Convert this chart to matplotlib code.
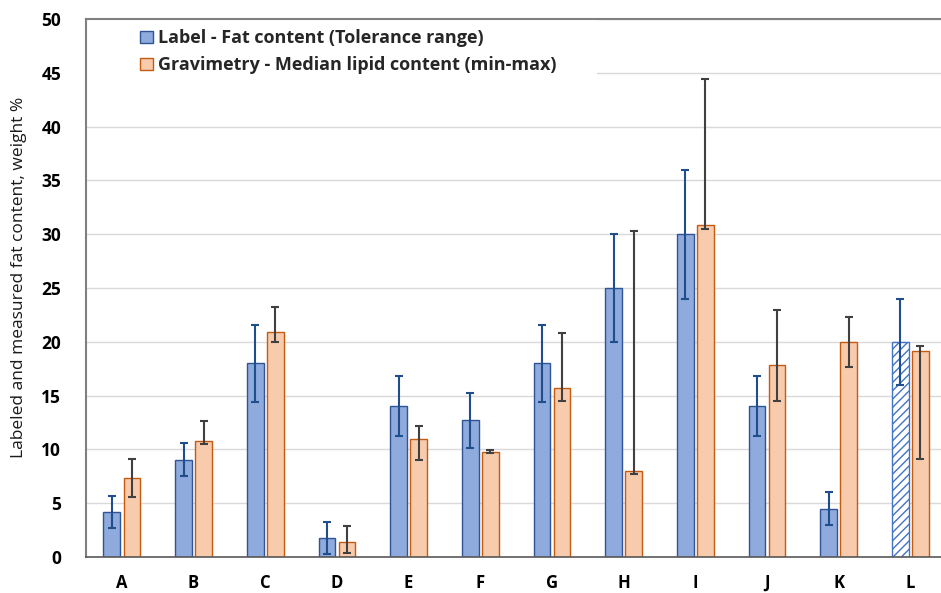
import numpy as np
import matplotlib
matplotlib.use("Agg")
import matplotlib.pyplot as plt
import matplotlib.transforms as mtransforms
from matplotlib.patches import Rectangle

# datos
categorias = ["A", "B", "C", "D", "E", "F", "G", "H", "I", "J", "K", "L"]

etiqueta = [4.2, 9.05, 18.0, 1.75, 14.0, 12.7, 18.0, 25.0, 30.0, 14.0, 4.5, 20.0]
etiqueta_min = [2.7, 7.55, 14.4, 0.3, 11.2, 10.1, 14.4, 20.0, 24.0, 11.2, 3.0, 16.0]
etiqueta_max = [5.7, 10.6, 21.6, 3.25, 16.8, 15.2, 21.6, 30.0, 36.0, 16.8, 6.0, 24.0]

grav = [7.3, 10.75, 20.9, 1.4, 11.0, 9.8, 15.7, 8.0, 30.9, 17.8, 20.0, 19.1]
grav_min = [5.6, 10.5, 20.0, 0.4, 9.0, 9.7, 14.5, 7.7, 30.45, 14.5, 17.7, 9.1]
grav_max = [9.1, 12.6, 23.2, 2.85, 12.2, 9.9, 20.8, 30.3, 44.4, 23.0, 22.3, 19.6]

etiqueta_rayada = [False] * 11 + [True]

plt.rcParams["font.family"] = ["Open Sans", "DejaVu Sans"]
plt.rcParams["hatch.color"] = "#4472C4"
plt.rcParams["hatch.linewidth"] = 1.0

fig = plt.figure(figsize=(9.41, 5.93), dpi=100)
ax = fig.add_axes([0.0914, 0.0607, 0.9142, 0.9073])

x = np.arange(len(categorias))
ancho = 0.233
sep = 0.023

azul_fill = "#8FAADC"
azul_borde = "#2F5597"
naranja_fill = "#F8CBAD"
naranja_borde = "#C55A11"

e = np.array(etiqueta)
g = np.array(grav)
err_e = [e - np.array(etiqueta_min), np.array(etiqueta_max) - e]
err_g = [g - np.array(grav_min), np.array(grav_max) - g]

caras = ["white" if r else azul_fill for r in etiqueta_rayada]
barras_e = ax.bar(x - ancho / 2 - sep, e, ancho, color=caras, edgecolor=azul_borde,
                  linewidth=1.0, label="Label - Fat content (Tolerance range)", zorder=2)
for b, r in zip(barras_e, etiqueta_rayada):
    if r:
        b.set_hatch("////")
        b.set_edgecolor("#4472C4")

ax.bar(x + ancho / 2 + sep, g, ancho, color=naranja_fill, edgecolor=naranja_borde,
       linewidth=1.0, label="Gravimetry - Median lipid content (min-max)", zorder=2)

ax.errorbar(x - ancho / 2 - sep, e, yerr=err_e, fmt="none", ecolor="#1F4E8C",
            elinewidth=1.5, capsize=2.6, capthick=1.5, zorder=3)
ax.errorbar(x + ancho / 2 + sep, g, yerr=err_g, fmt="none", ecolor="#404040",
            elinewidth=1.5, capsize=2.6, capthick=1.5, zorder=3)

ax.set_xlim(-0.5, 11.5)
ax.set_ylim(0, 50)
ax.set_yticks(np.arange(0, 51, 5))
ax.set_xticks(x)
ax.set_xticklabels(categorias, fontweight="bold", fontsize=12)
for t in ax.get_yticklabels():
    t.set_fontweight("bold")
    t.set_fontsize(12.5)
ax.tick_params(axis="both", length=0)
ax.tick_params(axis="y", pad=18)
ax.tick_params(axis="x", pad=12)

ax.grid(axis="y", color="#D9D9D9", linewidth=1.0, zorder=0)
ax.set_axisbelow(True)

for lado in ["left", "top"]:
    ax.spines[lado].set_color("#808080")
    ax.spines[lado].set_linewidth(1.5)
ax.spines["right"].set_visible(False)
ax.spines["bottom"].set_color("#595959")
ax.spines["bottom"].set_linewidth(1.2)

ax.set_ylabel("Labeled and measured fat content, weight %", fontsize=12.5, color="#1a1a1a")
ax.yaxis.set_label_coords(-0.069, 0.519)

# fondo blanco de la leyenda
trans = mtransforms.blended_transform_factory(ax.transAxes, ax.transData)
ax.add_patch(Rectangle((0, 44.0), 0.594, 6.0, transform=trans, facecolor="white",
                       edgecolor="none", zorder=1))

leg = ax.legend(loc="upper left", bbox_to_anchor=(0.0628, 0.981), frameon=False,
                fontsize=13, handlelength=0.7, handleheight=0.7, handletextpad=0.3,
                borderaxespad=0.0, borderpad=0.0, labelspacing=0.5)
for t in leg.get_texts():
    t.set_fontweight("bold")
    t.set_color("#262626")
leg.legend_handles[0].set_facecolor(azul_fill)
leg.legend_handles[0].set_hatch(None)
leg.legend_handles[0].set_edgecolor(azul_borde)

plt.savefig("out.png", dpi=100)
